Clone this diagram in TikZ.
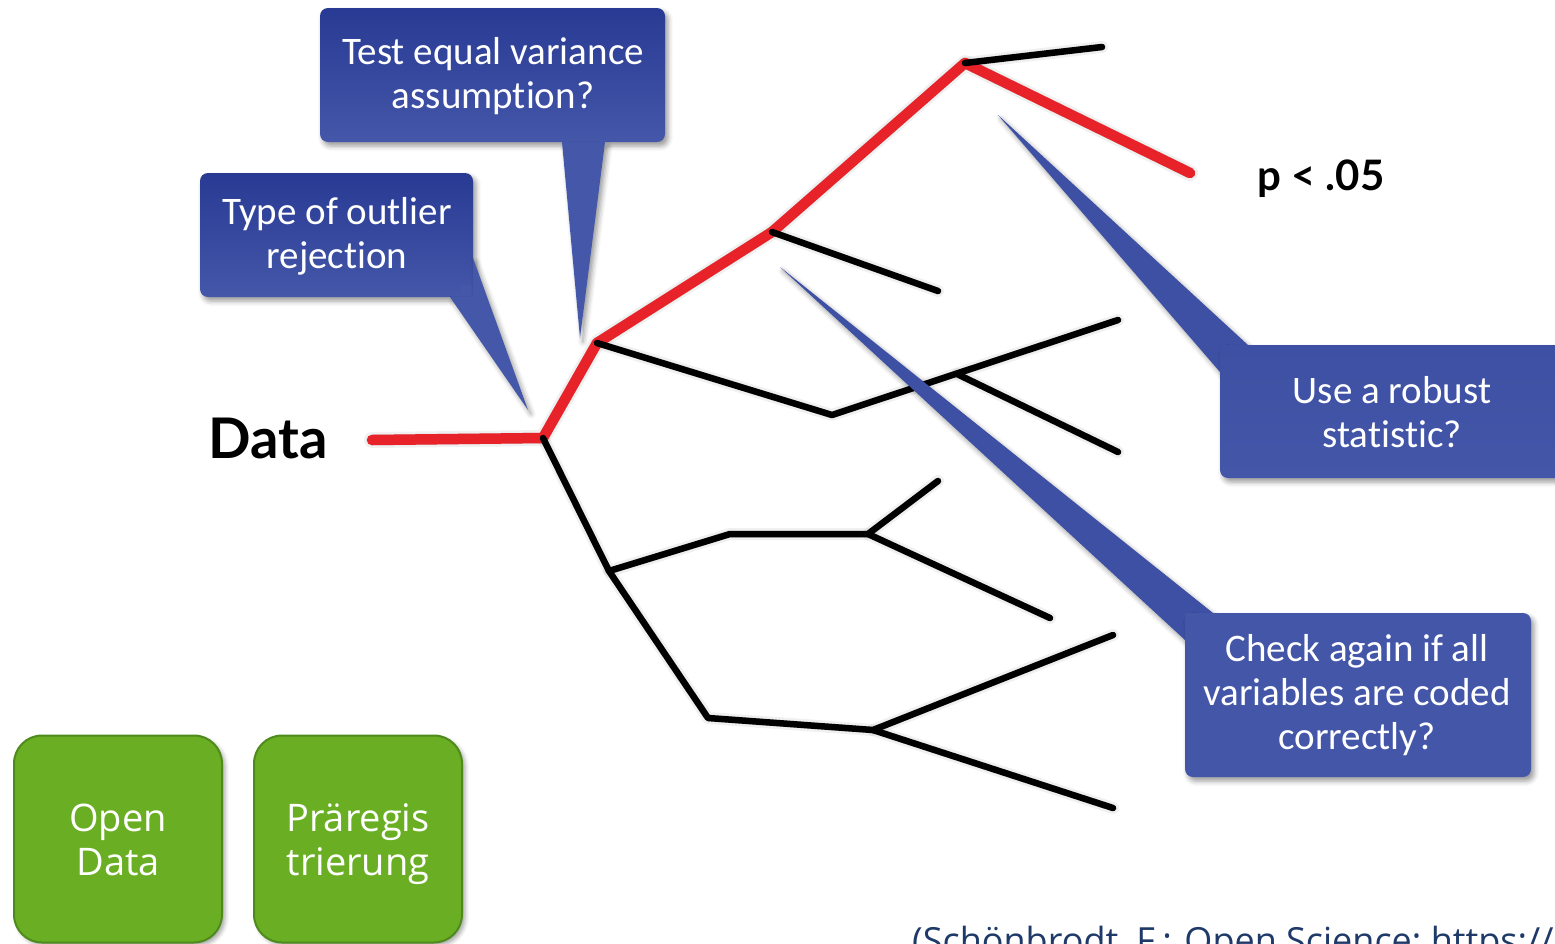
\documentclass[tikz,border=0pt]{standalone}
\usepackage{fontspec}
\setmainfont{Carlito}[Ligatures=NoCommon]
\newfontfamily\headfont{Lato}
\newfontfamily\opensans{Open Sans}
\usetikzlibrary{shadows.blur}

\definecolor{pathred}{HTML}{E82229}
\definecolor{boxtop}{HTML}{283A93}
\definecolor{boxbot}{HTML}{4457A9}
\definecolor{tailblue}{HTML}{3D50A3}
\definecolor{boxflat}{HTML}{4356A8}
\definecolor{greenfill}{HTML}{6AAF23}
\definecolor{greenedge}{HTML}{4F8A1C}
\definecolor{citeblue}{HTML}{1F3A68}

\tikzset{
  softshadow/.style={blur shadow={shadow xshift=3pt, shadow yshift=-4pt,
      shadow blur radius=5pt, shadow opacity=40}},
  callbox/.style={rounded corners=8pt, softshadow},
  calltail/.style={fill=tailblue, softshadow},
  calltext/.style={text=white, align=center, inner sep=0pt,
      font=\fontsize{39}{44}\selectfont},
  blackbranch/.style={line width=6.5pt, line cap=round, line join=round, black},
  redbranch/.style={line width=10.5pt, line cap=round, line join=round, pathred},
  branchshadow/.style={line cap=round, line join=round, black, opacity=#1},
  greenbox/.style={fill=greenfill, draw=greenedge, line width=2pt,
      rounded corners=28pt, minimum width=208pt, minimum height=207pt,
      blur shadow={shadow xshift=3pt, shadow yshift=-3pt,
      shadow blur radius=4pt, shadow opacity=35}},
  greentext/.style={text=white, align=center, inner sep=0pt,
      font=\opensans\fontsize{38}{44}\selectfont},
}

\newcommand{\blackbranches}[1]{%
  \draw[#1] (n3) -- (l1);
  \draw[#1] (n2) -- (l2);
  \draw[#1] (n1) -- (m1) -- (l3);
  \draw[#1] (m2) -- (l4);
  \draw[#1] (n0) -- (k0) -- (k1) -- (k2) -- (l5);
  \draw[#1] (k2) -- (l6);
  \draw[#1] (k0) -- (j1) -- (j2) -- (l7);
  \draw[#1] (j2) -- (l8);
}
\newcommand{\redbranch}[1]{%
  \draw[#1] (dstart) -- (n0) -- (n1) -- (n2) -- (n3) -- (pend);
}

\begin{document}
\begin{tikzpicture}[x=1pt, y=-1pt]
\useasboundingbox (0,0) rectangle (1555,943);
\clip (0,0) rectangle (1555,943);

% joints and leaves of the decision tree
\coordinate (dstart) at (372,440);
\coordinate (n0) at (543,438);
\coordinate (n1) at (597,343);
\coordinate (n2) at (772,232);
\coordinate (n3) at (965,63);
\coordinate (pend) at (1190,173);
\coordinate (l1) at (1102,47);
\coordinate (l2) at (938,291);
\coordinate (m1) at (832,415);
\coordinate (m2) at (957,374);
\coordinate (l3) at (1118,320);
\coordinate (l4) at (1118,452);
\coordinate (k0) at (609,571);
\coordinate (k1) at (730,534);
\coordinate (k2) at (868,534);
\coordinate (l5) at (938,481);
\coordinate (l6) at (1050,618);
\coordinate (j1) at (708,718);
\coordinate (j2) at (873,730);
\coordinate (l7) at (1113,635);
\coordinate (l8) at (1113,808);

% soft shadows under the branches
\begin{scope}[xshift=3pt, yshift=-4pt]
  \blackbranches{branchshadow=0.06, line width=12pt}
  \blackbranches{branchshadow=0.10, line width=7pt}
  \redbranch{branchshadow=0.06, line width=16pt}
  \redbranch{branchshadow=0.10, line width=11pt}
\end{scope}

% branches: the chosen path first, side branches on top of it
\redbranch{redbranch}
\blackbranches{blackbranch}

% labels of the tree
\node[font=\headfont\bfseries\fontsize{56}{64}\selectfont, anchor=base, inner sep=0pt]
  (data) at (268,458) {Data};
\node[font=\headfont\bfseries\fontsize{42}{48}\selectfont, anchor=base, inner sep=0pt]
  (pval) at (1321,190) {p < .05};

% callout: equal variance
\path[callbox, top color=boxtop, bottom color=boxbot] (320,8) rectangle (665,142);
\path[calltail, fill=boxbot] (562,142) -- (580,338) -- (605,142) -- cycle;
\node[calltext] (tvar) at (493,76) {Test equal variance\\assumption?};

% callout: outlier rejection
\path[callbox, top color=boxtop, bottom color=boxbot] (200,173) rectangle (473,297);
\fill[boxbot] (461,285) rectangle (473,297);
\path[calltail, fill=boxbot] (450,297) -- (528,410) -- (473,258) -- (473,297) -- cycle;
\node[calltext] (tout) at (337,236) {Type of outlier\\rejection};

% callout: robust statistic
\path[calltail] (1220,372) -- (998,115) -- (1248,345) -- (1220,345) -- cycle;
\path[callbox, top color=tailblue, bottom color=boxflat] (1220,345) rectangle (1565,478);
\fill[tailblue] (1220,345) rectangle (1230,355);
\node[calltext] (trob) at (1392,412) {Use a robust\\statistic?};

% callout: coding check
\path[calltail] (1185,640) -- (780,267) -- (1213,613) -- (1185,613) -- cycle;
\path[callbox, top color=boxflat, bottom color=boxflat] (1185,613) rectangle (1531,777);
\fill[boxflat] (1185,613) rectangle (1195,623);
\node[calltext] (tchk) at (1357,695) {Check again if all\\variables are coded\\correctly?};

% green boxes
\node[greenbox] (opendata) at (118,839) {};
\node[greenbox] (prereg) at (358,839) {};
\node[greentext] (opendatatext) at (118,845) {\strut Open\\Data\strut};
\node[greentext] (pregtext) at (358,845) {\strut Präregis\\trierung\strut};

% reference line
\node[anchor=base west, inner sep=0pt, text=citeblue,
  font=\opensans\fontsize{36}{42}\selectfont] (cite) at (912,953)
  {(Schönbrodt, F.: Open Science; https://};
\end{tikzpicture}
\end{document}
